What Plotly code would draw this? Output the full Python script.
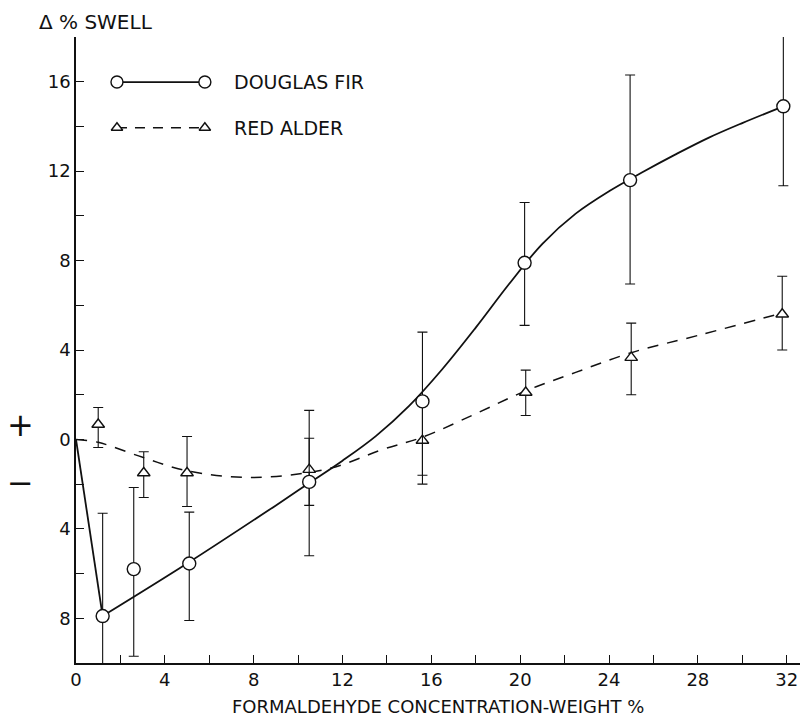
import plotly.graph_objects as go

# ---------------- data ----------------
DF_X = [1.2, 2.6, 5.1, 10.5, 15.6, 20.2, 24.95, 31.85]
DF_Y = [-7.9, -5.8, -5.55, -1.9, 1.7, 7.9, 11.6, 14.9]
DF_HI = [-3.3, -2.15, -3.25, 1.3, 4.8, 10.6, 16.3, 18.5]
DF_LO = [-12.5, -9.7, -8.1, -5.2, -1.6, 5.1, 6.95, 11.35]

RA_X = [1.0, 3.05, 5.0, 10.5, 15.6, 20.25, 25.0, 31.8]
RA_Y = [0.67, -1.5, -1.5, -1.35, -0.05, 2.1, 3.66, 5.6]
RA_HI = [1.43, -0.55, 0.13, 0.05, 1.9, 3.1, 5.2, 7.3]
RA_LO = [-0.36, -2.6, -3.0, -2.95, -2.0, 1.07, 2.0, 4.0]

# fitted curves drawn by hand in the original
DF_FIT_START_X = [0, 1.2]
DF_FIT_START_Y = [0, -7.9]
DF_FIT_X = [1.2, 5, 9, 10.5, 12, 13.5, 15, 16.5, 18, 19.5, 21, 22.5, 24, 25.5, 27, 28.5, 30, 31.85]
DF_FIT_Y = [-7.9, -5.55, -2.95, -1.95, -0.95, 0.15, 1.5, 3.15, 5.0, 6.95, 8.75, 10.1, 11.1, 11.95, 12.75, 13.5, 14.15, 14.9]

RA_FIT_X = [0, 1, 3, 5, 8, 11.4, 13.8, 15.6, 18, 20.2, 22.5, 25, 28, 31.8]
RA_FIT_Y = [0, -0.13, -0.8, -1.4, -1.7, -1.3, -0.45, 0.1, 1.15, 2.15, 3.0, 3.88, 4.65, 5.65]

X_TICKS = list(range(0, 33, 2))
X_LABELS = [str(v) if v % 4 == 0 else "" for v in X_TICKS]
Y_TICKS = list(range(-8, 17, 2))
Y_LABELS = [str(abs(v)) if v % 4 == 0 else "" for v in Y_TICKS]

SERIES_NAMES = ["DOUGLAS FIR", "RED ALDER"]
Y_TITLE = "Δ % SWELL"
X_TITLE = "FORMALDEHYDE CONCENTRATION-WEIGHT %"

# ---------------- styles ----------------
INK = "#111111"
FONT = "DejaVu Sans"

def err(hi, lo, y):
    return dict(type="data", symmetric=False,
                array=[h - v for h, v in zip(hi, y)],
                arrayminus=[v - l for l, v in zip(lo, y)],
                color=INK, thickness=1.1, width=5)

fig = go.Figure()

# fitted curves
fig.add_trace(go.Scatter(x=DF_FIT_START_X, y=DF_FIT_START_Y, mode="lines",
                         line=dict(color=INK, width=1.8), showlegend=False, hoverinfo="skip"))
fig.add_trace(go.Scatter(x=DF_FIT_X, y=DF_FIT_Y, mode="lines",
                         line=dict(color=INK, width=1.8, shape="spline", smoothing=1.0),
                         showlegend=False, hoverinfo="skip"))
fig.add_trace(go.Scatter(x=RA_FIT_X, y=RA_FIT_Y, mode="lines",
                         line=dict(color=INK, width=1.5, dash="11px,9px", shape="spline", smoothing=1.0),
                         showlegend=False, hoverinfo="skip"))

# data points with error bars
fig.add_trace(go.Scatter(x=RA_X, y=RA_Y, mode="markers", name=SERIES_NAMES[1],
                         marker=dict(symbol="triangle-up", size=11, color="white",
                                     line=dict(color=INK, width=1.4)),
                         error_y=err(RA_HI, RA_LO, RA_Y), showlegend=False))
fig.add_trace(go.Scatter(x=DF_X, y=DF_Y, mode="markers", name=SERIES_NAMES[0],
                         marker=dict(symbol="circle", size=13, color="white",
                                     line=dict(color=INK, width=1.4)),
                         error_y=err(DF_HI, DF_LO, DF_Y), showlegend=False))

# hand-drawn style legend on an invisible overlay axis (fractions of plot area)
LEG = dict(x0=0.0566, x1=0.178, y_df=0.928, y_ra=0.855, tx=0.2155)
fig.add_trace(go.Scatter(x=[LEG["x0"], LEG["x1"]], y=[LEG["y_df"]] * 2, xaxis="x2", yaxis="y2",
                         mode="lines+markers", line=dict(color=INK, width=1.8),
                         marker=dict(symbol="circle", size=12, color="white", line=dict(color=INK, width=1.4)),
                         showlegend=False, hoverinfo="skip"))
fig.add_trace(go.Scatter(x=[LEG["x0"], LEG["x1"]], y=[LEG["y_ra"]] * 2, xaxis="x2", yaxis="y2",
                         mode="lines+markers", line=dict(color=INK, width=1.5, dash="10px,8px"),
                         marker=dict(symbol="triangle-up", size=10, color="white", line=dict(color=INK, width=1.4)),
                         showlegend=False, hoverinfo="skip"))

axis_common = dict(showgrid=False, zeroline=False, showline=True, linecolor=INK, linewidth=1.6,
                   ticks="inside", ticklen=8, tickwidth=1.4, tickcolor=INK,
                   tickfont=dict(family=FONT, size=18, color=INK), tickmode="array")

fig.update_layout(
    width=804, height=716,
    margin=dict(l=76, r=4, t=37, b=53),
    paper_bgcolor="white", plot_bgcolor="white",
    xaxis=dict(range=[0, 32.6], tickvals=X_TICKS, ticktext=X_LABELS, **axis_common),
    yaxis=dict(range=[-10, 18], tickvals=Y_TICKS, ticktext=Y_LABELS, **axis_common),
    xaxis2=dict(overlaying="x", range=[0, 1], visible=False),
    yaxis2=dict(overlaying="y", range=[0, 1], visible=False),
    showlegend=False,
    annotations=[
        dict(text=X_TITLE, xref="paper", yref="paper", x=0.5, y=-0.0687, xanchor="center", yanchor="middle",
             showarrow=False, font=dict(family=FONT, size=18, color=INK)),
        dict(text=Y_TITLE, xref="paper", yref="paper", x=-0.0539, y=1.024, xanchor="left", yanchor="middle",
             showarrow=False, font=dict(family=FONT, size=20, color=INK)),
        dict(text="+", xref="paper", yref="paper", x=-0.0773, y=0.380, xanchor="center", yanchor="middle",
             showarrow=False, font=dict(family=FONT, size=32, color=INK)),
        dict(text="−", xref="paper", yref="paper", x=-0.0773, y=0.2875, xanchor="center", yanchor="middle",
             showarrow=False, font=dict(family=FONT, size=32, color=INK)),
        dict(text=SERIES_NAMES[0], xref="paper", yref="paper", x=LEG["tx"], y=LEG["y_df"],
             xanchor="left", yanchor="middle", showarrow=False, font=dict(family=FONT, size=19, color=INK)),
        dict(text=SERIES_NAMES[1], xref="paper", yref="paper", x=LEG["tx"], y=LEG["y_ra"],
             xanchor="left", yanchor="middle", showarrow=False, font=dict(family=FONT, size=19, color=INK)),
    ],
)

fig.write_html("out.html")
